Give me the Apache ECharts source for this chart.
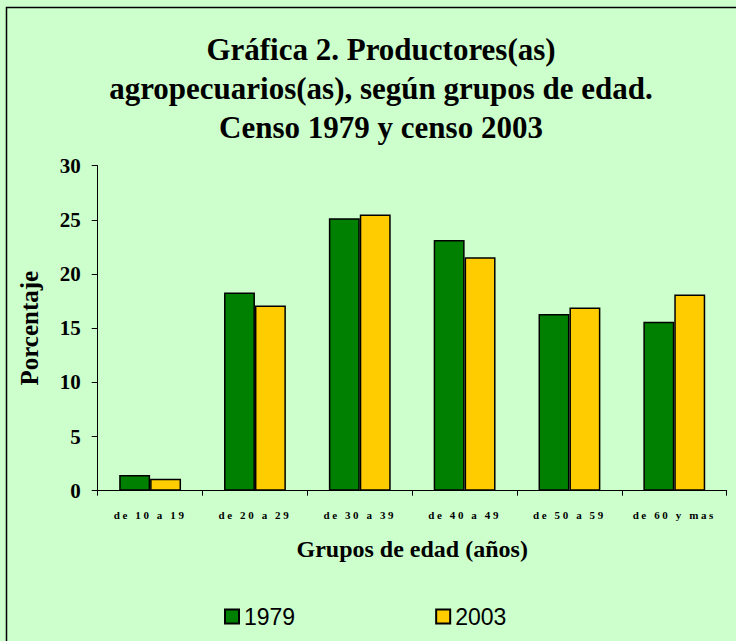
<!DOCTYPE html>
<html><head><meta charset="utf-8">
<script src="https://cdn.jsdelivr.net/npm/echarts@6/dist/echarts.min.js"></script>
<style>html,body{margin:0;padding:0;background:#CCFFCC;}#c{width:736px;height:641px;}
#c svg text[style*="11px"]{letter-spacing:2.6px;}</style>
</head><body><div id="c"></div>
<script>
var categories = ['de 10 a 19','de 20 a 29','de 30 a 39','de 40 a 49','de 50 a 59','de 60 y mas'];
var values1979 = [1.45, 18.3, 25.15, 23.15, 16.3, 15.6];
var values2003 = [1.1, 17.1, 25.5, 21.55, 16.9, 18.1];
var yTicks = [0, 5, 10, 15, 20, 25, 30];

var chart = echarts.init(document.getElementById('c'), null, {renderer: 'svg'});
var serif = '"Liberation Serif","Times New Roman",serif';
chart.setOption({
  backgroundColor: '#CCFFCC',
  animation: false,
  graphic: [{
    type: 'rect', left: 4, top: 5, z: -1,
    shape: {width: 760, height: 660},
    style: {fill: 'none', stroke: '#000', lineWidth: 1.5}
  }],
  title: {
    text: 'Gráfica 2. Productores(as)\nagropecuarios(as), según grupos de edad.\nCenso 1979 y censo 2003',
    left: 376, top: 25, textAlign: 'center',
    textStyle: {fontFamily: serif, fontWeight: 'bold', fontSize: 31, lineHeight: 39, color: '#000'}
  },
  legend: {
    data: ['1979','2003'],
    left: 219, top: 600, itemGap: 140,
    itemWidth: 14, itemHeight: 14,
    textStyle: {fontFamily: '"Liberation Sans",Arial,sans-serif', fontSize: 23, color: '#000'},
    icon: 'rect'
  },
  grid: {left: 97.7, right: 9.3, top: 165.7, bottom: 150.3},
  xAxis: {
    type: 'category', data: categories,
    name: 'Grupos de edad (años)', nameLocation: 'middle', nameGap: 46,
    nameTextStyle: {fontFamily: serif, fontWeight: 'bold', fontSize: 24, color: '#000'},
    axisLine: {lineStyle: {color: '#000', width: 1}},
    axisTick: {show: true, length: 5, lineStyle: {color: '#000'}},
    axisLabel: {fontFamily: serif, fontWeight: 'bold', fontSize: 11, color: '#000', margin: 19, interval: 0}
  },
  yAxis: {
    type: 'value', min: 0, max: 30, interval: 5,
    name: 'Porcentaje', nameLocation: 'middle', nameGap: 56, nameRotate: 90,
    nameTextStyle: {fontFamily: serif, fontWeight: 'bold', fontSize: 25, color: '#000'},
    axisLine: {show: true, lineStyle: {color: '#000', width: 1}},
    axisTick: {show: true, length: 6, lineStyle: {color: '#000'}},
    splitLine: {show: false},
    axisLabel: {fontFamily: serif, fontWeight: 'bold', fontSize: 21, color: '#000', margin: 17,
      formatter: function(v){ return yTicks.indexOf(v) >= 0 ? String(v) : ''; }}
  },
  series: [{
    name: '1979', type: 'bar', data: values1979, barGap: '0%', barCategoryGap: '41%',
    itemStyle: {color: '#008000', borderColor: '#000', borderWidth: 1.5}
  },{
    name: '2003', type: 'bar', data: values2003,
    itemStyle: {color: '#FFCC00', borderColor: '#000', borderWidth: 1.5}
  }]
});
</script></body></html>
